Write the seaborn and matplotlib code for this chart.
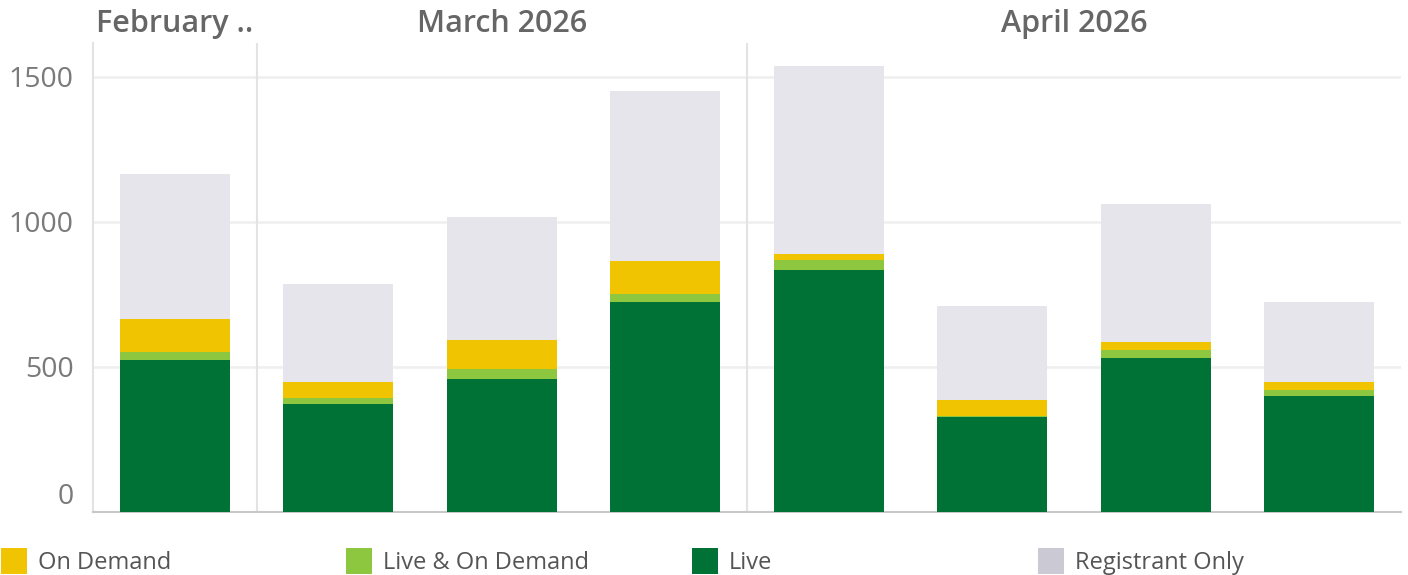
import matplotlib
matplotlib.use("Agg")
import matplotlib.pyplot as plt
import seaborn as sns
import pandas as pd
from matplotlib.patches import Rectangle
from matplotlib.transforms import ScaledTranslation

# Weekly session counts, grouped by month
months = ["February ..", "March 2026", "April 2026"]
bars_per_month = [1, 3, 4]
weeks = ["Feb 23", "Mar 2", "Mar 9", "Mar 16", "Mar 30", "Apr 6", "Apr 13", "Apr 20"]

live = [524, 372, 459, 724, 834, 328, 531, 400]
live_on_demand = [28, 21, 34, 28, 35, 3, 28, 21]
on_demand = [114, 55, 100, 114, 21, 55, 27, 27]
registrant_only = [500, 338, 424, 586, 648, 324, 476, 276]

y_ticks = [0, 500, 1000, 1500]

series = ["Live", "Live & On Demand", "On Demand", "Registrant Only"]
bar_colors = {
    "Live": "#007236",
    "Live & On Demand": "#8dc63f",
    "On Demand": "#f0c400",
    "Registrant Only": "#e6e5ec",
}
legend_colors = dict(bar_colors, **{"Registrant Only": "#cac9d4"})
legend_order = ["On Demand", "Live & On Demand", "Live", "Registrant Only"]

df = pd.DataFrame({
    "week": weeks,
    "Live": live,
    "Live & On Demand": live_on_demand,
    "On Demand": on_demand,
    "Registrant Only": registrant_only,
})
# cumulative tops for stacking (bottom -> top: Live, L&OD, OD, Registrant)
cum = df[series].cumsum(axis=1)
cum["week"] = df["week"]

sns.set_theme(style="white")
plt.rcParams["font.family"] = ["Open Sans", "DejaVu Sans"]

W, H = 1408, 575
fig = plt.figure(figsize=(W / 100, H / 100), dpi=100)
ax = fig.add_axes([93 / W, 1 - 512 / H, 1308 / W, (512 - 43) / H])

for name in reversed(series):
    sns.barplot(data=cum, x="week", y=name, order=weeks, color=bar_colors[name],
                saturation=1, width=0.67, linewidth=0, ax=ax, zorder=3)

ax.set_xlim(-0.5, len(weeks) - 0.5)
ax.set_ylim(0, 1617)
ax.set_yticks(y_ticks)
ax.set_yticklabels([str(v) for v in y_ticks])
ax.set_xticks([])
ax.set_xlabel("")
ax.set_ylabel("")
ax.yaxis.grid(True, color="#efefef", lw=1.8, zorder=0)
ax.set_axisbelow(True)

for s in ["top", "right"]:
    ax.spines[s].set_visible(False)
ax.spines["left"].set_color("#e3e3e3")
ax.spines["left"].set_linewidth(1.5)
ax.spines["bottom"].set_color("#c8c8c8")
ax.spines["bottom"].set_linewidth(1.5)

ax.tick_params(axis="y", length=0, labelsize=20.5, labelcolor="#7a7a7a", pad=14)
# zero label sits just above the baseline
zero_lbl = ax.get_yticklabels()[0]
zero_lbl.set_transform(zero_lbl.get_transform() + ScaledTranslation(0, 0.18, fig.dpi_scale_trans))

# month panel dividers and headers
edges = [-0.5]
for n in bars_per_month:
    edges.append(edges[-1] + n)
for e in edges[1:-1]:
    ax.axvline(e, color="#e3e3e3", lw=1.5, zorder=1)
for m, a, b in zip(months, edges[:-1], edges[1:]):
    xc = ax.transData.transform(((a + b) / 2, 0))[0] / W
    fig.text(xc, 1 - 24 / H, m, ha="center", va="center", fontsize=22,
             fontweight="semibold", color="#666666")

# legend row
sw_x = [1, 346, 692, 1038]
for name, x0 in zip(legend_order, sw_x):
    fig.add_artist(Rectangle((x0 / W, 1 - 574 / H), 26 / W, 26 / H,
                             transform=fig.transFigure, color=legend_colors[name], lw=0))
    fig.text((x0 + 37) / W, 1 - 563 / H, name, ha="left", va="center",
             fontsize=17, color="#555555")

fig.savefig("out.png", dpi=100)
